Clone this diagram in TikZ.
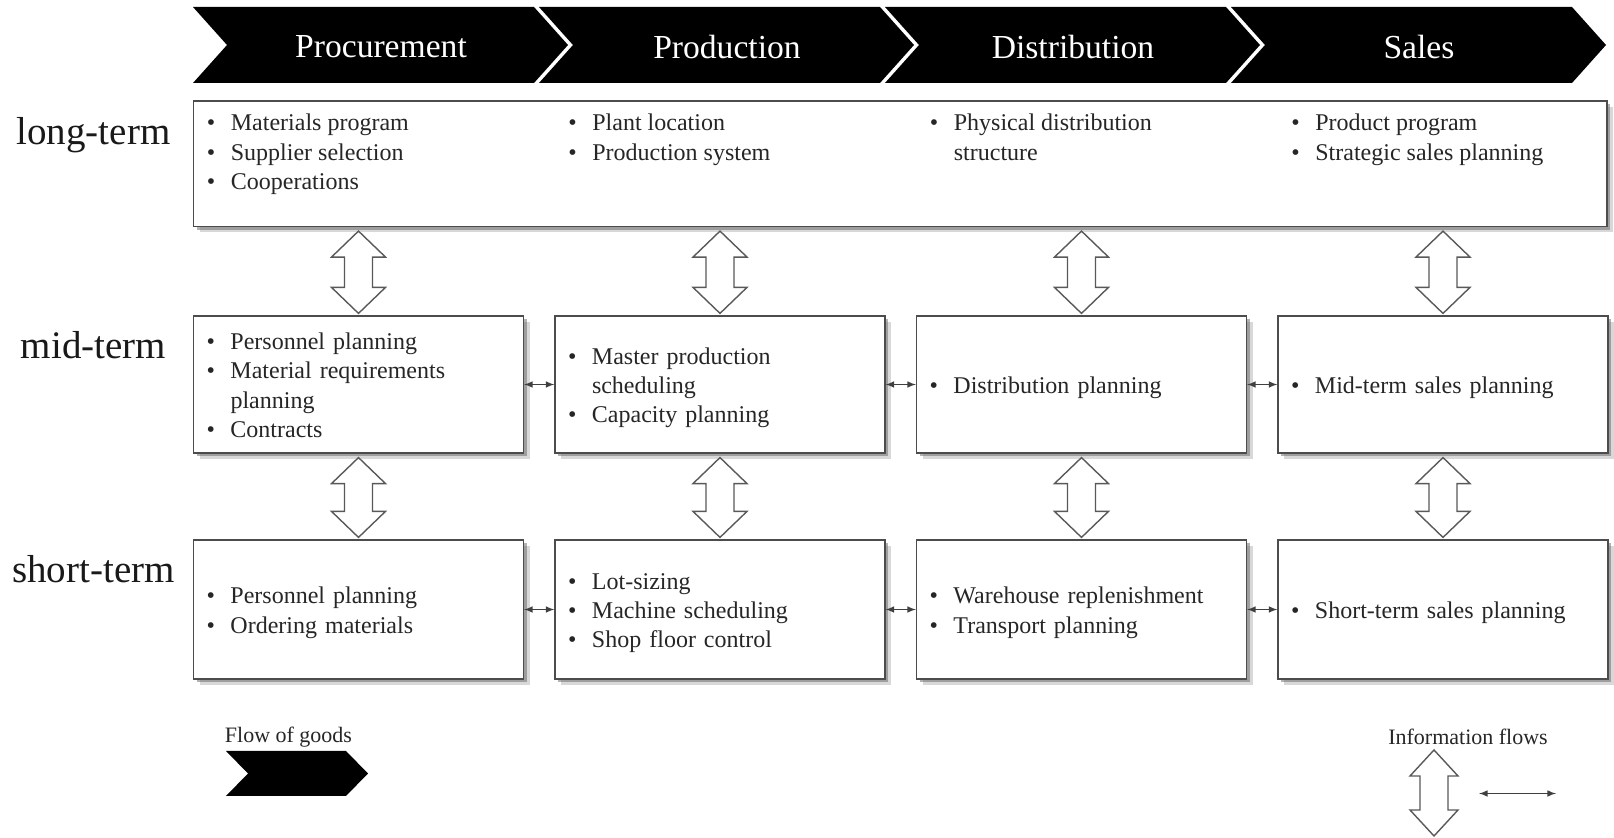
\documentclass[tikz,border=0pt]{standalone}
\usepackage{fontspec}
\setmainfont{Liberation Serif}
\usepackage{xcolor}
\usetikzlibrary{
    arrows,
    calc,
    shadows
}

\newcommand{\itm}{\makebox[12pt][l]{\textbullet}}
\newcommand{\cnt}{\hspace*{12pt}}
\newcommand{\blist}[1]{\begin{tabular}[t]{@{}l@{}}#1\end{tabular}}
% hollow up-down arrow between two points
\newcommand{\infoflow}[3][13.5pt]{%
    \draw[flowline] let \p1=(#2), \p2=(#3) in
    (\x1, \y1-2pt) -- (\x1+#1, \y1-15pt) -- (\x1+7pt, \y1-15pt)
    -- (\x1+7pt, \y2+14pt) -- (\x1+#1, \y2+14pt) -- (\x1, \y2+1pt)
    -- (\x1-#1, \y2+14pt) -- (\x1-7pt, \y2+14pt)
    -- (\x1-7pt, \y1-15pt) -- (\x1-#1, \y1-15pt) -- cycle;}

\begin{document}
\begin{tikzpicture}[x=0.5pt, y=-0.5pt,
    box/.style={draw=black!70, line width=0.6pt, fill=white,
        drop shadow={shadow xshift=3pt, shadow yshift=-3pt, fill=black!30},
        drop shadow={shadow xshift=1.6pt, shadow yshift=-1.6pt, fill=black!60}},
    cell/.style={box, minimum width=165pt, minimum height=68.5pt,
        inner xsep=6.5pt, inner ysep=0pt, text width=152pt, align=left,
        text=black!85, font=\fontsize{12}{14.65}\selectfont,
        execute at begin node=\vspace*{-3pt}},
    txt/.style={inner sep=0pt, anchor=base west, text=black!85,
        font=\fontsize{12}{14.65}\selectfont},
    head/.style={text=white, font=\fontsize{16.8}{20}\selectfont},
    term/.style={anchor=base, text=black!90, font=\fontsize{19.5}{23}\selectfont},
    legend/.style={text=black!85, font=\fontsize{11}{13}\selectfont},
    flow/.style={latex-latex, draw=black!75, line width=0.5pt},
    flowline/.style={draw=black!65, fill=white, line width=0.7pt}]
    \fill[white] (0, 0) rectangle (1614, 838);
    \useasboundingbox (0, 0) rectangle (1614, 838);

    % value chain
    \begin{scope}[shift={(193, 7)}]
        \fill (0, 0) -- (341, 0) -- (375, 38) -- (341, 76) -- (0, 76) -- (34, 38) -- cycle;
        \node[head] (hproc) at (188, 40) {Procurement};
    \end{scope}
    \begin{scope}[shift={(539, 7)}]
        \fill (0, 0) -- (341, 0) -- (375, 38) -- (341, 76) -- (0, 76) -- (34, 38) -- cycle;
        \node[head] (hprod) at (188, 40) {Production};
    \end{scope}
    \begin{scope}[shift={(885, 7)}]
        \fill (0, 0) -- (341, 0) -- (375, 38) -- (341, 76) -- (0, 76) -- (34, 38) -- cycle;
        \node[head] (hdist) at (188, 40) {Distribution};
    \end{scope}
    \begin{scope}[shift={(1231, 7)}]
        \fill (0, 0) -- (341, 0) -- (375, 38) -- (341, 76) -- (0, 76) -- (34, 38) -- cycle;
        \node[head] (hsales) at (188, 40) {Sales};
    \end{scope}

    % planning horizons
    \node[term] (longlbl) at (93.5, 145) {long-term};
    \node[term] (midlbl) at (93.5, 359) {mid-term};
    \node[term] (shortlbl) at (93.5, 583) {short-term};

    % long-term
    \node[box, minimum width=706.75pt, minimum height=62.75pt] (lt) at (900.25, 163.75) {};
    \node[txt] (lproc) at (206.5, 131)
        {\blist{\itm Materials program\\ \itm Supplier selection\\ \itm Cooperations}};
    \node[txt] (lprod) at (568, 131)
        {\blist{\itm Plant location\\ \itm Production system}};
    \node[txt] (ldist) at (929.5, 131)
        {\blist{\itm Physical distribution\\ \cnt structure}};
    \node[txt] (lsales) at (1291, 131)
        {\blist{\itm Product program\\ \itm Strategic sales planning}};

    % mid-term
    \node[cell] (mproc) at (358.5, 384.5)
        {\blist{\itm Personnel planning\\ \itm Material requirements\\ \cnt planning\\ \itm Contracts}};
    \node[cell] (mprod) at (720, 384.5)
        {\blist{\itm Master production\\ \cnt scheduling\\ \itm Capacity planning}};
    \node[cell] (mdist) at (1081.5, 384.5)
        {\blist{\itm Distribution planning}};
    \node[cell] (msales) at (1443, 384.5)
        {\blist{\itm Mid-term sales planning}};

    % short-term
    \node[cell, minimum height=69.5pt] (sproc) at (358.5, 609.5)
        {\blist{\itm Personnel planning\\ \itm Ordering materials}};
    \node[cell, minimum height=69.5pt] (sprod) at (720, 609.5)
        {\blist{\itm Lot-sizing\\ \itm Machine scheduling\\ \itm Shop floor control}};
    \node[cell, minimum height=69.5pt] (sdist) at (1081.5, 609.5)
        {\blist{\itm Warehouse replenishment\\ \itm Transport planning}};
    \node[cell, minimum height=69.5pt] (ssales) at (1443, 609.5)
        {\blist{\itm Short-term sales planning}};

    % information flows
    \infoflow{lt.south -| mproc.north}{mproc.north}
    \infoflow{lt.south -| mprod.north}{mprod.north}
    \infoflow{lt.south -| mdist.north}{mdist.north}
    \infoflow{lt.south -| msales.north}{msales.north}
    \infoflow{mproc.south}{sproc.north}
    \infoflow{mprod.south}{sprod.north}
    \infoflow{mdist.south}{sdist.north}
    \infoflow{msales.south}{ssales.north}
    \draw
    (mproc) edge[flow] (mprod)
    (mprod) edge[flow] (mdist)
    (mdist) edge[flow] (msales)
    (sproc) edge[flow] (sprod)
    (sprod) edge[flow] (sdist)
    (sdist) edge[flow] (ssales);

    % legend
    \node[legend] (goodslbl) at (288.5, 737) {Flow of goods};
    \fill (226, 751) -- (346, 751) -- (368, 773.5) -- (346, 796) -- (226, 796) -- (248, 773.5) -- cycle;
    \node[legend] (infolbl) at (1468, 737) {Information flows};
    \coordinate (legtop) at (1434, 746);
    \coordinate (legbot) at (1434, 838);
    \infoflow[12pt]{legtop}{legbot}
    \coordinate (legl) at (1479, 793.5);
    \coordinate (legr) at (1556, 793.5);
    \draw[flow] (legl) -- (legr);
\end{tikzpicture}
\end{document}
